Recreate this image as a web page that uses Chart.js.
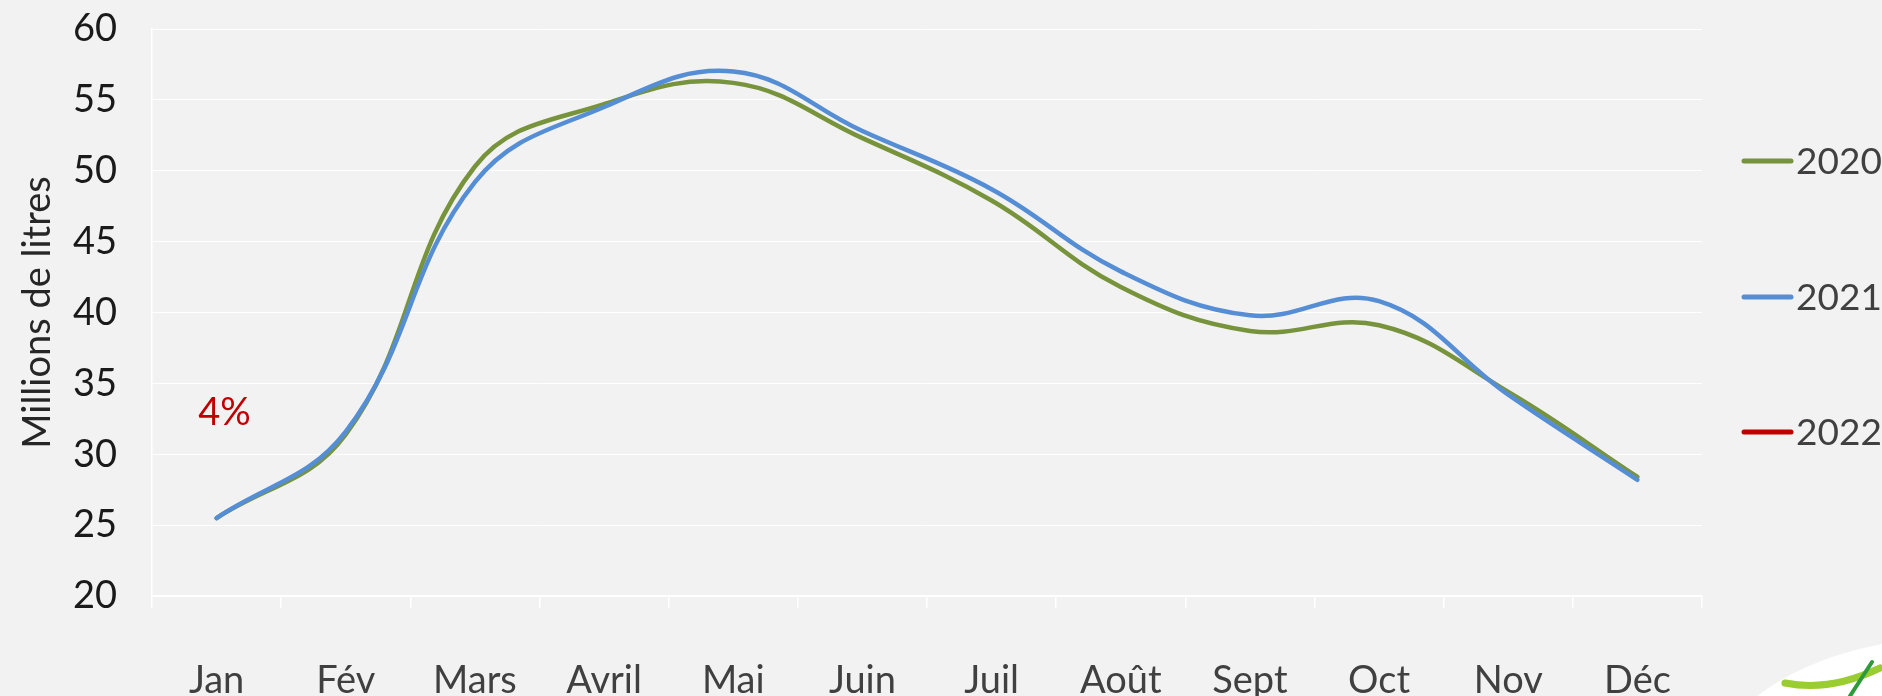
<!DOCTYPE html>
<html>
<head>
<meta charset="utf-8">
<script src="https://cdn.jsdelivr.net/npm/chart.js@4"></script>
<style>
  html, body { margin: 0; padding: 0; background: #F2F2F2; overflow: hidden; }
  canvas { display: block; }
</style>
</head>
<body>
<canvas id="lineChart" width="1882" height="696"></canvas>
<script>
// Months and yearly volumes (millions de litres)
const months = ['Jan', 'Fév', 'Mars', 'Avril', 'Mai', 'Juin', 'Juil', 'Août', 'Sept', 'Oct', 'Nov', 'Déc'];
const years = ['2020', '2021', '2022'];
const values2020 = [25.5, 31.4, 50.3, 54.7, 56.2, 52.3, 47.9, 41.8, 38.7, 39.1, 34.4, 28.4];
const values2021 = [25.5, 31.6, 49.2, 54.5, 57.0, 52.8, 48.7, 42.9, 39.8, 40.8, 34.2, 28.2];
const values2022 = [];
const yTicks = [20, 25, 30, 35, 40, 45, 50, 55, 60];
const noteText = '4%';

const fontFamily = 'Lato, "Open Sans", sans-serif';
const colors = ['#77933C', '#558ED5', '#C00000'];

// legend on the right + the red note + bit of logo in the corner
const extrasPlugin = {
  id: 'extras',
  afterDraw(chart) {
    const ctx = chart.ctx;
    const x = chart.scales.x;
    const y = chart.scales.y;

    // note near Jan
    ctx.save();
    ctx.fillStyle = '#C00000';
    ctx.font = '38px ' + fontFamily;
    ctx.textAlign = 'center';
    ctx.textBaseline = 'middle';
    ctx.fillText(noteText, x.getPixelForValue(0) + 8, y.getPixelForValue(32.95));
    ctx.restore();

    // legend
    const legendY = [161, 297, 432];
    chart.data.datasets.forEach((ds, i) => {
      ctx.save();
      ctx.strokeStyle = ds.borderColor;
      ctx.lineWidth = 5;
      ctx.lineCap = 'round';
      ctx.beginPath();
      ctx.moveTo(1744, legendY[i]);
      ctx.lineTo(1791, legendY[i]);
      ctx.stroke();
      ctx.fillStyle = '#404040';
      ctx.font = '37px ' + fontFamily;
      ctx.textAlign = 'left';
      ctx.textBaseline = 'middle';
      ctx.fillText(ds.label, 1796, legendY[i] + 1);
      ctx.restore();
    });

    // logo corner
    ctx.save();
    ctx.fillStyle = '#FFFFFF';
    ctx.beginPath();
    ctx.ellipse(1900, 720, 175, 78, -0.18, 0, Math.PI * 2);
    ctx.fill();
    ctx.strokeStyle = '#9ACD32';
    ctx.lineWidth = 7;
    ctx.lineCap = 'round';
    ctx.beginPath();
    ctx.moveTo(1785, 683);
    ctx.quadraticCurveTo(1830, 692, 1880, 668);
    ctx.stroke();
    ctx.strokeStyle = '#2E9B3A';
    ctx.lineWidth = 4;
    ctx.beginPath();
    ctx.moveTo(1850, 696);
    ctx.lineTo(1872, 662);
    ctx.stroke();
    ctx.restore();
  }
};

const ctx = document.getElementById('lineChart').getContext('2d');

new Chart(ctx, {
  type: 'line',
  data: {
    labels: months,
    datasets: [
      { label: years[0], data: values2020, borderColor: colors[0], backgroundColor: colors[0], order: 2 },
      { label: years[1], data: values2021, borderColor: colors[1], backgroundColor: colors[1], order: 1 },
      { label: years[2], data: values2022, borderColor: colors[2], backgroundColor: colors[2], order: 0 }
    ]
  },
  options: {
    responsive: false,
    animation: false,
    layout: { padding: { top: 29, right: 180, left: 0, bottom: 0 } },
    elements: {
      line: { borderWidth: 4.5, tension: 0.4, fill: false, borderCapStyle: 'round' },
      point: { radius: 0 }
    },
    plugins: {
      legend: { display: false },
      tooltip: { enabled: false }
    },
    scales: {
      x: {
        offset: true,
        grid: {
          offset: true,
          drawOnChartArea: false,
          drawTicks: true,
          tickLength: 12,
          color: '#FFFFFF',
          lineWidth: 1.5
        },
        border: { display: true, color: '#FFFFFF', width: 1.5 },
        ticks: {
          color: '#404040',
          font: { family: fontFamily, size: 38 },
          padding: 50,
          maxRotation: 0
        },
        afterFit(scale) { scale.height = 100; }
      },
      y: {
        min: 20,
        max: 60,
        afterBuildTicks(scale) { scale.ticks = yTicks.map(v => ({ value: v })); },
        grid: { color: '#FFFFFF', lineWidth: 1, drawTicks: false },
        border: { display: true, color: '#FFFFFF', width: 1.5 },
        ticks: {
          color: '#1A1A1A',
          font: { family: fontFamily, size: 38 },
          padding: 35
        },
        title: {
          display: true,
          text: 'Millions de litres',
          color: '#262626',
          font: { family: fontFamily, size: 38 },
          padding: { top: 15, bottom: 0 }
        },
        afterFit(scale) {
          scale.width = 152;
          scale.paddingTop = 0;
          scale.paddingBottom = 0;
        }
      }
    }
  },
  plugins: [extrasPlugin]
});
</script>
</body>
</html>
